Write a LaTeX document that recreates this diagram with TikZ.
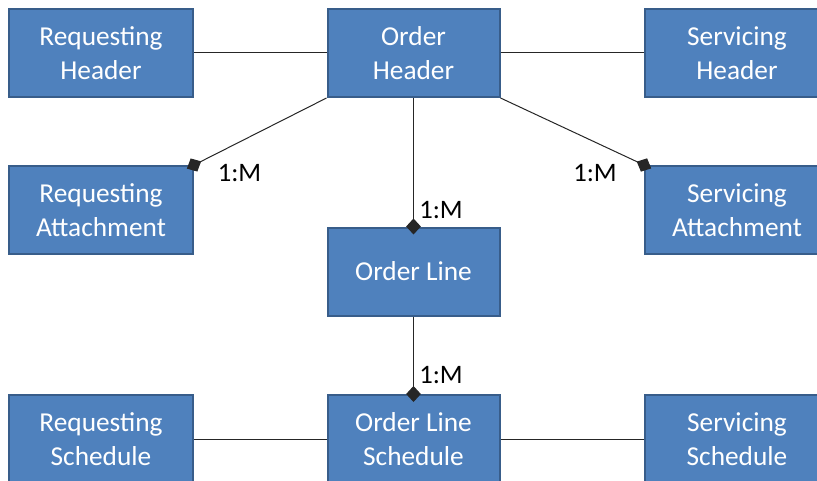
\documentclass[tikz,border=0pt]{standalone}
\usepackage{fontspec}
\setmainfont{Carlito}
\usetikzlibrary{arrows.meta}
\definecolor{boxfill}{RGB}{79,129,189}
\definecolor{boxline}{RGB}{56,93,138}
\begin{document}
\begin{tikzpicture}[x=0.75pt,y=0.75pt,yscale=-1,xscale=1,
  entity/.style={draw=boxline,line width=1.5pt,fill=boxfill,text=white,align=center,
    minimum width=138pt,minimum height=66pt,inner sep=0pt,
    font=\fontsize{20.5}{25.5}\selectfont},
  ordercol/.style={entity,minimum width=129pt},
  link/.style={draw=black!85,line width=0.75pt},
  onemany/.style={link,-{Diamond[length=12pt,width=11pt]},shorten >=-6pt},
  card/.style={inner sep=0pt,font=\fontsize{20}{24}\selectfont}]
\useasboundingbox (0,0) rectangle (817,481);

%Shape: Rectangle
\node [entity] (reqhead) at (101,53) {Requesting\\Header};
\node [ordercol] (ordhead) at (413.5,53) {Order\\Header};
\node [entity] (svchead) at (737,53) {Servicing\\Header};
%Shape: Rectangle
\node [entity] (reqatt) at (101,210) {Requesting\\Attachment};
\node [ordercol] (ordline) at (413.5,271.5) {Order Line};
\node [entity] (svcatt) at (737,210) {Servicing\\Attachment};
%Shape: Rectangle
\node [entity] (reqsched) at (101,439) {Requesting\\Schedule};
\node [ordercol] (olsched) at (413.5,439) {Order Line\\Schedule};
\node [entity] (svcsched) at (737,439) {Servicing\\Schedule};

%Straight Lines
\draw [link] (reqhead) -- (ordhead);
\draw [link] (ordhead) -- (svchead);
\draw [link] (reqsched) -- (olsched);
\draw [link] (olsched) -- (svcsched);
%Straight Lines
\draw [onemany] (ordhead.south west) -- (reqatt.north east);
\draw [onemany] (ordhead.south east) -- (svcatt.north west);
\draw [onemany] (ordhead.south) -- (ordline.north);
\draw [onemany] (ordline.south) -- (olsched.north);

% Text Node
\node [card] (c1) at (239.5,173.5) {1:M};
\node [card] (c2) at (595,173.5) {1:M};
\node [card] (c3) at (441,210) {1:M};
\node [card] (c4) at (441,375) {1:M};
\end{tikzpicture}
\end{document}
